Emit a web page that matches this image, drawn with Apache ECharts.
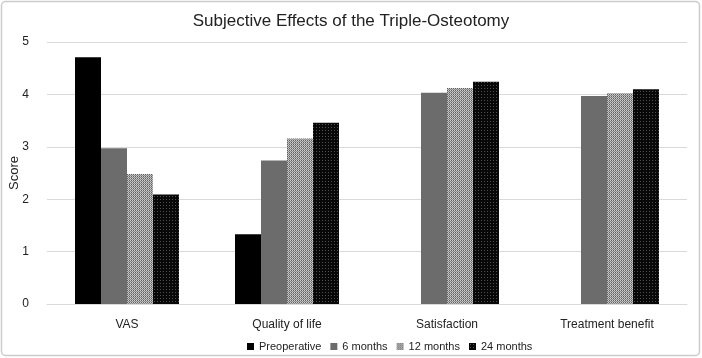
<!DOCTYPE html>
<html>
<head>
<meta charset="utf-8">
<script src="https://cdn.jsdelivr.net/npm/echarts@6/dist/echarts.min.js"></script>
<style>
html,body{margin:0;padding:0;background:#fff;}
#chart{width:702px;height:358px;}
</style>
</head>
<body>
<div id="chart"></div>
<script>
var titleText = 'Subjective Effects of the Triple-Osteotomy';
var categories = ['VAS', 'Quality of life', 'Satisfaction', 'Treatment benefit'];
var seriesNames = ['Preoperative', '6 months', '12 months', '24 months'];
var preoperative = [4.71, 1.33, null, null];
var sixMonths = [2.97, 2.74, 4.03, 3.97];
var twelveMonths = [2.48, 3.16, 4.12, 4.02];
var twentyFourMonths = [2.09, 3.46, 4.24, 4.10];
var yTicks = [0, 1, 2, 3, 4, 5];

function makePattern(size, bg, dots) {
  var c = document.createElement('canvas');
  c.width = size; c.height = size;
  var ctx = c.getContext('2d');
  ctx.fillStyle = bg; ctx.fillRect(0, 0, size, size);
  dots.forEach(function (d) { ctx.fillStyle = d[2]; ctx.fillRect(d[0], d[1], 1, 1); });
  return c;
}
var pat12 = makePattern(2, '#cfcfcf', [[1,0,'#5e5e5e'],[0,1,'#8a8a8a'],[1,1,'#b4b4b4']]);
var pat24 = makePattern(3, '#080808', [[1,1,'#505050']]);

var chart = echarts.init(document.getElementById('chart'), null, {renderer: 'canvas'});
var data = [preoperative, sixMonths, twelveMonths, twentyFourMonths];
var colors = ['#000000', '#6c6c6c', {image: pat12, repeat: 'repeat'}, {image: pat24, repeat: 'repeat'}];

chart.setOption({
  animation: false,
  backgroundColor: '#ffffff',
  textStyle: {fontFamily: 'Liberation Sans, Arial, sans-serif'},
  graphic: [{
    type: 'rect', z: 100, silent: true,
    shape: {x: 1.5, y: 1.5, width: 698, height: 354, r: 4},
    style: {fill: 'none', stroke: '#cccccc', lineWidth: 1.5}
  }],
  title: {
    text: titleText, left: 'center', top: 8,
    textStyle: {fontSize: 17, fontWeight: 'normal', color: '#222', fontFamily: 'Liberation Sans, Arial, sans-serif'}
  },
  legend: {
    data: seriesNames, top: 336, left: 242,
    itemWidth: 7, itemHeight: 7, itemGap: 9, icon: 'rect',
    textStyle: {fontSize: 11, color: '#222'}
  },
  grid: {left: 47, right: 15, top: 42, bottom: 54, outerBoundsMode: 'none', containLabel: false},
  xAxis: {
    type: 'category', data: categories,
    axisLine: {lineStyle: {color: '#d9d9d9'}},
    axisTick: {show: false},
    axisLabel: {fontSize: 12, color: '#222', margin: 15}
  },
  yAxis: {
    type: 'value', min: yTicks[0], max: yTicks[yTicks.length - 1], interval: 1,
    name: 'Score', nameLocation: 'middle', nameGap: 26, nameMoveOverlap: false,
    nameTextStyle: {fontSize: 13, color: '#222'},
    axisLine: {show: false}, axisTick: {show: false},
    axisLabel: {fontSize: 12, color: '#222', margin: 18},
    splitLine: {lineStyle: {color: '#d9d9d9'}}
  },
  series: data.map(function (d, i) {
    return {
      name: seriesNames[i], type: 'bar', data: d,
      barGap: '0%', barCategoryGap: '35%',
      itemStyle: {color: colors[i]}
    };
  })
});
</script>
</body>
</html>
